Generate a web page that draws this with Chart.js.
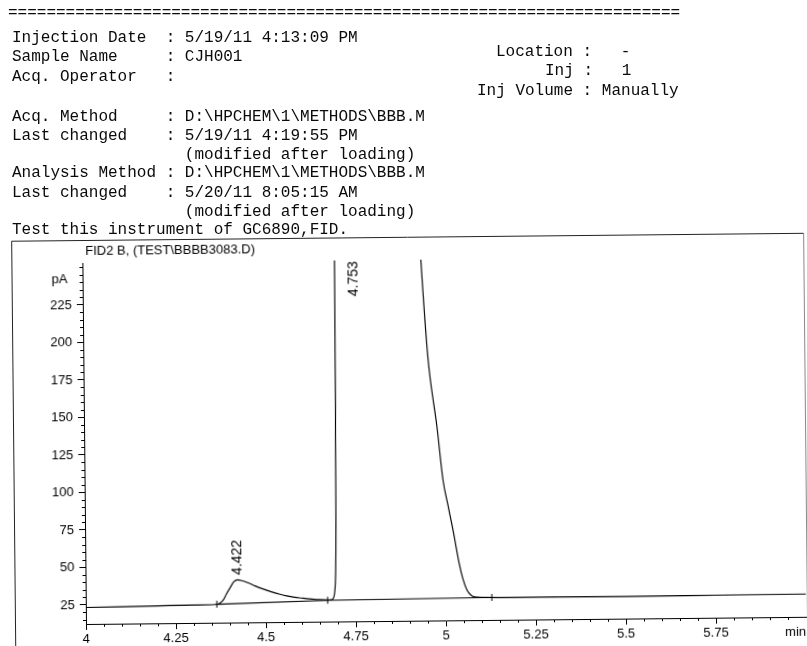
<!DOCTYPE html>
<html>
<head>
<meta charset="utf-8">
<script src="https://cdn.jsdelivr.net/npm/chart.js@4/dist/chart.umd.min.js"></script>
<style>
  html, body { margin: 0; padding: 0; background: #fff; }
  #page { position: relative; width: 807px; height: 646px; overflow: hidden; }
  /* the printed chart panel sits slightly askew on the page */
  #chart { position: absolute; left: 0; top: 0; transform: rotate(-0.573deg); transform-origin: 86px 624px; }
  .hdr {
    position: absolute; margin: 0; white-space: pre;
    font-family: "Liberation Mono", "Courier New", monospace;
    font-size: 16px; line-height: 20px; color: #0a0a0a;
  }
</style>
</head>
<body>
<div id="page">
  <canvas id="chart" width="830" height="680"></canvas>
  <pre class="hdr" style="left:8px;top:3px">======================================================================</pre>
  <pre class="hdr" style="left:12px;top:28px">Injection Date  : 5/19/11 4:13:09 PM</pre>
  <pre class="hdr" style="left:12px;top:47px">Sample Name     : CJH001</pre>
  <pre class="hdr" style="left:12px;top:67px">Acq. Operator   :</pre>
  <pre class="hdr" style="left:12px;top:107px">Acq. Method     : D:\HPCHEM\1\METHODS\BBB.M</pre>
  <pre class="hdr" style="left:12px;top:126px">Last changed    : 5/19/11 4:19:55 PM</pre>
  <pre class="hdr" style="left:12px;top:145px">                  (modified after loading)</pre>
  <pre class="hdr" style="left:12px;top:163px">Analysis Method : D:\HPCHEM\1\METHODS\BBB.M</pre>
  <pre class="hdr" style="left:12px;top:183px">Last changed    : 5/20/11 8:05:15 AM</pre>
  <pre class="hdr" style="left:12px;top:202px">                  (modified after loading)</pre>
  <pre class="hdr" style="left:12px;top:220px">Test this instrument of GC6890,FID.</pre>
  <pre class="hdr" style="left:496px;top:42px">Location :   -</pre>
  <pre class="hdr" style="left:545px;top:61px">Inj :   1</pre>
  <pre class="hdr" style="left:477px;top:81px">Inj Volume : Manually</pre>
</div>
<script>
// FID2 B signal trace (retention time in min, response in pA)
const sigTime = [4.00, 4.10, 4.20, 4.30, 4.36, 4.37, 4.382, 4.39, 4.401, 4.412, 4.422, 4.435, 4.45, 4.465, 4.484,
  4.50, 4.52, 4.54, 4.558, 4.58, 4.60, 4.614, 4.64, 4.669, 4.684, 4.689, 4.692, 4.695, 4.697, 4.699, 4.701,
  4.72, 4.753, 4.80, 4.85, 4.90, 4.9406, 4.957, 4.9805, 4.9956, 5.008, 5.022, 5.038, 5.048, 5.059, 5.07,
  5.081, 5.10, 5.25, 5.50, 5.75, 6.00];
const sigPA = [23.3, 23.6, 23.9, 24.2, 24.5, 25.0, 27.4, 31.0, 35.4, 39.5, 40.7, 40.1, 38.8, 37.2, 35.2,
  33.9, 32.2, 30.8, 29.7, 28.7, 28.1, 27.7, 27.1, 26.7, 26.9, 28.5, 32.5, 46.0, 78.0, 160.0, 300.0,
  800.0, 1150.0, 1000.0, 750.0, 450.0, 251.0, 188.0, 141.0, 106.0, 90.0, 72.5, 50.5, 40.0, 32.5, 29.0,
  27.7, 27.4, 27.2, 27.1, 27.3, 27.5];

// Integration baseline and peak start / split / end marks
const baseTime = [4.364, 4.672, 5.128];
const basePA = [24.6, 26.5, 27.3];

// Labelled peaks: retention times and apex responses
const peakRT = [4.422, 4.753];
const peakPA = [40.7, 1150.0];

// Axis ticks
const xTicks = [4, 4.25, 4.5, 4.75, 5, 5.25, 5.5, 5.75];
const yTicks = [25, 50, 75, 100, 125, 150, 175, 200, 225];

const INK = '#000';
const FONT = { family: '"Liberation Sans", Arial, sans-serif', size: 13 };

const decorations = {
  id: 'decorations',
  beforeDraw(chart) {
    const c = chart.ctx;
    c.save();
    // outer frame of the plot panel
    c.strokeStyle = '#222';
    c.lineWidth = 1;
    c.beginPath();
    c.moveTo(15.5, 700); c.lineTo(15.5, 240.5); c.lineTo(807.5, 240.5);
    c.stroke();
    c.strokeStyle = '#888';
    c.beginPath();
    c.moveTo(807.5, 240.5); c.lineTo(807.5, 700);
    c.stroke();
    c.restore();
  },
  afterDraw(chart) {
    const c = chart.ctx;
    const xs = chart.scales.x, ys = chart.scales.y, area = chart.chartArea;
    c.save();
    c.strokeStyle = INK;
    c.lineWidth = 1;
    // minor ticks
    c.beginPath();
    for (let i = 0; i <= 40; i++) {
      const v = 4 + i * 0.05;
      if (i % 5 === 0) continue;
      const px = Math.round(xs.getPixelForValue(v)) + 0.5;
      if (px > area.right) break;
      c.moveTo(px, area.bottom); c.lineTo(px, area.bottom + 3);
    }
    for (let v = 15; v <= 250; v += 5) {
      if (v % 25 === 0 && v <= 225) continue;
      const py = Math.round(ys.getPixelForValue(v)) + 0.5;
      c.moveTo(area.left, py); c.lineTo(area.left - 3, py);
    }
    c.stroke();

    c.fillStyle = INK;
    c.font = `${FONT.size}px ${FONT.family}`;
    // signal title
    c.textAlign = 'left'; c.textBaseline = 'middle';
    c.fillText('FID2 B, (TEST\\BBBB3083.D)', 89, 251);
    // units
    c.textAlign = 'right';
    c.fillText('pA', 71, area.top + 16);
    c.fillText('min', 806, 639);

    // retention time labels, rotated
    c.font = `14px ${FONT.family}`;
    peakRT.forEach((rt, i) => {
      const txt = rt.toFixed(3);
      const w = c.measureText(txt).width;
      const px = xs.getPixelForValue(rt);
      let py = ys.getPixelForValue(peakPA[i]) - 5;
      if (py - w < area.top) py = area.top + w + 1;
      c.save();
      c.translate(px, py);
      c.rotate(-Math.PI / 2);
      c.textAlign = 'left'; c.textBaseline = 'middle';
      c.fillText(txt, 0, 0);
      c.restore();
    });
    c.restore();
  }
};

new Chart(document.getElementById('chart'), {
  type: 'line',
  data: {
    datasets: [
      {
        data: sigTime.map((t, i) => ({ x: t, y: sigPA[i] })),
        borderColor: INK, borderWidth: 1.15, pointRadius: 0, cubicInterpolationMode: 'monotone'
      },
      {
        data: baseTime.map((t, i) => ({ x: t, y: basePA[i] })),
        borderColor: INK, borderWidth: 1.15, pointRadius: 0, tension: 0
      },
      {
        type: 'scatter',
        data: baseTime.map((t, i) => ({ x: t, y: basePA[i] })),
        pointStyle: 'line', rotation: 90, pointRadius: 3.5,
        borderColor: INK, borderWidth: 1, showLine: false
      }
    ]
  },
  options: {
    responsive: false,
    animation: false,
    layout: { padding: { left: 46, top: 263, right: 24, bottom: 36 } },
    plugins: { legend: { display: false }, tooltip: { enabled: false } },
    scales: {
      x: {
        type: 'linear', min: 4, max: 6,
        afterBuildTicks: s => { s.ticks = xTicks.map(v => ({ value: v })); },
        afterFit: s => { s.height = 20; },
        grid: { drawOnChartArea: false, drawTicks: true, tickLength: 6, tickColor: INK },
        border: { display: true, color: INK, width: 1 },
        ticks: { font: FONT, color: INK, padding: 2, maxRotation: 0, autoSkip: false,
                 callback: v => String(v) }
      },
      y: {
        type: 'linear', min: 12.3, max: 253,
        afterBuildTicks: s => { s.ticks = yTicks.map(v => ({ value: v })); },
        afterFit: s => { s.width = 40; },
        grid: { drawOnChartArea: false, drawTicks: true, tickLength: 6, tickColor: INK },
        border: { display: true, color: INK, width: 1 },
        ticks: { font: FONT, color: INK, padding: 5, autoSkip: false, callback: v => String(v) }
      }
    }
  },
  plugins: [decorations]
});
</script>
</body>
</html>
